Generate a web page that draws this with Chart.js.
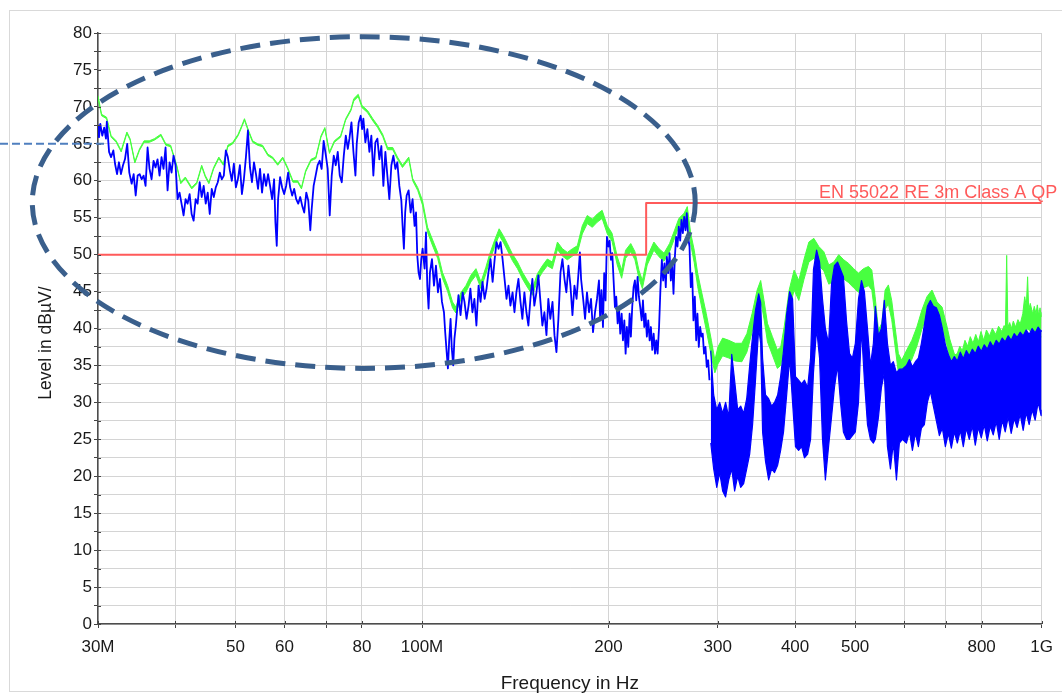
<!DOCTYPE html>
<html>
<head>
<meta charset="utf-8">
<script src="https://cdn.jsdelivr.net/npm/chart.js@4.4.1/dist/chart.umd.min.js"></script>
<style>
html,body{margin:0;padding:0;background:#fff;}
canvas{display:block;}
</style>
</head>
<body>
<canvas id="c" width="1062" height="693"></canvas>
<script>
// ---------- axis ticks ----------
const xTickValues = [30,40,50,60,70,80,100,200,300,400,500,600,700,800,1000];
const xTickLabels = ['30M','','50','60','','80','100M','200','300','400','500','','','800','1G'];
const yMin = 0, yMax = 80, yStep = 2.5;

// ---------- limit line (EN 55022 RE 3m Class A QP) ----------
const limitLabel = 'EN 55022 RE 3m Class A QP';
const limitFreq  = [30, 230, 230, 1000];
const limitLevel = [50, 50, 57, 57];

// ---------- peak trace (green), upper / lower edge ----------
const greenFreq = [
 30.0,30.4,30.97,31.5,32.1,32.7,33.4,33.8,34.4,35.0,
 35.6,36.3,37.0,37.9,38.6,39.3,40.2,40.8,41.5,42.5,
 43.3,44.1,44.7,45.3,46.1,47.0,47.8,48.6,49.5,50.5,
 51.2,51.7,52.5,53.3,54.3,55.3,56.4,57.4,58.5,59.6,
 60.7,61.9,63.0,63.9,64.9,66.2,67.4,68.7,69.7,70.9,
 72.2,73.9,75.3,76.8,77.6,78.9,80.0,81.7,83.3,84.8,
 86.4,88.0,89.7,91.3,93.0,95.2,96.6,98.4,100.2,102.1,
 103.9,106.0,107.9,110.0,112.0,113.4,115.6,117.7,119.9,122.2,
 124.5,126.8,128.4,130.9,133.2,135.2,137.3,139.9,142.6,145.3,
 147.9,150.8,153.5,156.4,159.3,162.3,165.4,168.5,171.6,174.9,
 178.1,181.4,184.8,188.3,191.8,195.3,199.1,202.6,206.6,210.0,
 213.1,217.2,220.6,223.9,226.8,230.9,236.7,241.3,245.8,250.9,
 255.6,259.7,264.8,268.0,271.4,275.0,278.5,282.2,287.6,293.1,
 296.9,300.3,305.6,312.7,320.2,328.2,334.4,340.9,347.4,352.0,
 356.4,361.0,367.7,374.5,379.2,384.1,391.3,398.6,405.6,413.3,
 421.0,428.9,436.9,445.1,453.4,461.9,470.5,479.3,488.2,497.3,
 506.3,515.8,525.5,532.0,538.6,545.2,552.0,558.9,565.8,572.8,
 580.0,587.2,594.5,605.7,617.2,628.9,640.8,652.9,665.3,677.9,
 690.7,
 703.8,710.5,717.1,723.9,730.7,737.6,744.6,752.0,759.6,767.0,
 774.8,782.8,790.4,798.2,806.2,814.5,823.8,832.6,843.4,852.0,
 862.5,870.0,874.0,878.1,882.0,888.0,893.7,900.0,907.6,915.6,
 923.4,932.2,939.0,944.5,949.1,953.0,958.6,967.0,973.0,979.2,
 984.0,989.0,994.0,998.3,1000
];
const greenHi = [
 71.5,69.0,68.6,66.1,65.4,64.1,66.6,65.7,62.6,64.3,
 65.4,65.4,65.7,66.3,65.0,64.8,62.1,59.8,60.5,59.1,
 59.8,62.1,60.7,59.8,61.8,63.2,62.3,64.8,65.2,66.3,
 67.5,68.4,66.8,65.4,65.0,64.8,63.6,63.2,62.3,63.2,
 61.8,60.0,60.0,59.1,61.4,62.9,63.2,66.1,67.2,63.9,
 65.4,66.1,68.4,69.7,71.1,71.7,70.2,69.5,68.4,67.5,
 66.3,64.5,64.5,63.2,62.1,63.2,60.3,59.1,57.3,53.7,
 52.1,50.3,47.6,45.8,43.6,42.9,44.9,45.8,47.2,48.1,
 46.3,48.3,49.9,51.9,53.5,52.6,51.5,50.1,49.0,47.6,
 46.5,45.4,47.4,48.5,49.4,49.0,51.7,50.8,50.3,50.8,
 51.2,53.9,55.3,54.8,55.5,56.0,53.9,52.9,49.7,47.9,
 50.6,51.5,50.4,47.9,46.5,49.7,51.7,50.8,50.2,51.5,
 53.3,54.9,55.6,56.5,52.9,50.6,47.5,45.2,42.0,38.4,
 35.7,37.5,38.7,38.4,38.0,38.0,39.3,42.0,45.2,46.5,
 43.8,40.7,38.9,37.1,37.5,40.2,45.2,47.9,46.5,49.3,
 51.7,52.2,51.1,50.4,48.6,49.0,50.0,49.3,48.8,48.1,
 47.5,48.1,48.4,47.9,44.3,39.8,40.7,45.2,45.9,43.8,
 40.2,36.6,35.7,37.1,38.4,40.2,42.5,44.3,45.2,43.6,
 42.9,
 40.2,38.6,37.5,36.4,36.6,37.6,37.0,38.4,37.6,38.9,
 38.0,39.2,38.2,39.6,38.4,39.8,39.0,40.0,39.2,40.3,
 39.6,40.4,39.8,49.9,40.2,40.8,40.0,41.0,40.2,41.2,
 40.6,42.0,44.3,43.0,47.0,42.6,43.4,42.0,43.0,42.0,
 43.2,41.8,42.8,41.6,42.2
];
const greenLo = [
 71.2,68.8,68.4,65.9,65.2,63.9,66.4,65.5,62.4,64.1,
 65.2,65.2,65.5,66.1,64.8,64.6,61.9,59.6,60.3,58.9,
 59.6,61.9,60.5,59.6,61.6,63.0,62.1,64.6,65.0,66.1,
 67.3,68.2,66.6,65.2,64.8,64.6,63.4,63.0,62.1,63.0,
 61.6,59.8,59.8,58.9,61.2,62.7,63.0,65.9,67.0,63.7,
 65.2,65.9,68.2,69.5,70.8,71.4,69.9,69.2,68.1,67.2,
 66.0,64.2,64.2,62.9,61.8,62.9,60.0,58.7,56.7,53.0,
 51.3,49.5,46.8,45.0,42.8,42.1,44.0,44.9,46.3,47.2,
 45.4,47.4,49.0,51.0,52.6,51.7,50.6,49.2,48.1,46.7,
 45.6,44.5,46.5,47.6,48.5,48.1,50.7,49.8,49.3,49.8,
 50.2,52.8,54.2,53.7,54.4,54.9,52.8,51.8,48.6,46.8,
 49.5,50.4,49.3,46.8,45.4,48.6,50.6,49.7,49.1,50.4,
 52.2,53.8,54.5,55.2,51.4,48.9,45.7,43.2,39.8,36.2,
 34.0,35.2,36.3,36.0,35.6,35.5,36.8,39.5,42.6,43.9,
 41.3,38.2,36.4,34.6,35.0,37.6,42.5,45.2,43.8,46.6,
 49.0,49.5,48.5,47.8,46.0,46.4,47.4,46.7,46.2,45.5,
 44.9,45.5,45.8,45.2,41.6,37.2,38.1,42.6,43.3,41.2,
 37.6,34.0,33.2,34.6,35.8,37.6,39.9,41.7,42.6,41.0,
 40.3,
 37.6,36.0,34.9,34.2,34.0,34.8,35.0,35.4,35.2,35.8,
 35.6,36.0,35.8,36.2,35.8,36.6,36.4,36.8,36.6,37.0,
 37.1,37.3,37.3,38.5,37.5,37.8,37.5,38.0,37.6,38.0,
 38.2,39.0,39.5,39.6,40.0,39.8,39.6,39.2,39.6,39.5,
 39.4,39.0,39.2,38.8,38.8
];

// ---------- QP / average trace (blue), 30 MHz - 291 MHz ----------
const blueFreq = [
 30.0,30.11,30.26,30.48,30.70,30.90,31.0,31.26,31.49,31.76,
 31.96,32.20,32.43,32.67,32.92,33.16,33.44,33.70,34.00,34.25,
 34.51,34.76,35.02,35.28,35.54,35.80,36.07,36.33,36.61,36.88,
 37.15,37.43,37.71,37.99,38.27,38.56,38.85,39.14,39.43,39.72,
 40.02,40.32,40.62,40.92,41.23,41.54,41.85,42.17,42.48,42.80,
 43.12,43.44,43.77,44.10,44.43,44.77,45.10,45.44,45.78,46.13,
 46.47,46.82,47.17,47.52,47.88,48.24,48.60,48.97,49.33,49.70,
 50.08,50.45,50.83,51.21,51.59,51.98,52.37,52.77,53.16,53.56,
 53.96,54.37,54.78,55.19,55.60,56.02,56.44,56.86,57.29,57.72,
 58.0,58.29,58.58,59.02,59.46,59.91,60.36,60.81,61.27,61.73,
 62.19,62.66,63.13,63.60,64.08,64.56,65.05,65.54,66.03,66.35,
 66.85,67.35,67.85,68.36,68.87,69.39,69.91,70.44,70.97,71.50,
 72.04,72.58,73.12,73.67,74.22,74.78,75.34,75.90,
 76.36,76.94,77.51,78.09,78.46,79.04,79.63,80.04,80.42,81.02,
 81.63,82.24,82.85,83.46,84.09,84.72,85.35,85.98,86.63,87.27,
 87.92,88.57,89.24,89.91,90.58,91.24,91.92,92.61,93.04,93.49,
 93.94,94.45,95.15,95.85,96.56,97.28,97.80,98.26,98.73,99.25,
 99.73,100.22,100.97,101.49,101.98,102.47,103.0,103.77,104.55,105.33,
 106.1,106.9,107.7,108.5,109.0,109.6,110.1,110.6,111.2,111.7,
 112.3,112.8,113.4,114.0,114.5,115.4,116.3,117.1,118.0,118.9,
 119.7,120.6,121.5,122.4,123.4,124.3,125.2,126.2,127.1,128.0,
 129.0,130.0,131.0,131.9,132.9,133.9,134.9,135.9,136.9,137.9,
 138.9,140.0,141.0,142.0,143.1,144.2,145.2,146.3,147.4,148.5,
 149.6,150.7,151.8,153.0,154.1,155.3,156.4,157.6,158.8,159.9,
 161.1,162.4,163.6,164.8,166.0,167.3,168.5,169.8,171.0,172.3,
 173.6,174.9,176.2,177.6,178.9,179.8,180.6,182.0,183.3,184.6,
 186.0,187.4,188.8,190.2,191.6,
 193.0,193.9,194.8,195.9,196.8,197.8,198.8,199.8,200.8,201.8,
 202.8,203.8,204.8,205.8,206.9,207.9,208.9,210.0,211.0,212.1,
 213.1,214.1,215.2,216.3,217.3,218.4,219.5,220.6,221.7,222.8,
 223.9,225.0,226.2,227.3,228.4,229.5,230.6,231.8,233.0,234.1,
 235.3,236.5,237.7,238.8,240.0,241.3,242.5,243.8,245.0,246.2,
 247.4,248.4,249.6,250.9,252.1,253.4,254.6,255.9,257.1,258.4,
 259.7,261.0,262.3,263.6,264.9,266.2,267.5,268.8,270.2,271.5,
 272.9,274.2,275.6,277.0,278.3,279.7,281.1,282.5,283.8,285.2,
 286.7,288.1,289.6,291.0
];
const blueLevel = [
 67.5,65.9,67.7,66.1,67.2,65.7,68.0,63.9,63.2,64.1,
 62.3,60.9,62.5,60.9,62.1,62.9,65.0,61.1,59.6,60.9,
 58.0,60.7,60.9,60.2,60.7,59.3,64.5,61.6,60.2,62.7,
 61.8,62.9,60.7,63.2,61.6,64.5,58.7,62.5,61.1,63.4,
 62.1,57.5,58.4,56.9,55.3,57.5,56.9,58.2,55.5,54.6,
 57.5,56.9,59.8,57.8,59.3,56.9,58.4,55.5,58.9,57.8,
 59.1,59.8,61.1,60.2,60.7,64.1,63.2,61.4,60.0,62.3,
 59.1,60.2,62.1,58.2,60.2,63.2,66.8,61.8,59.8,62.5,
 60.9,58.9,61.6,58.4,60.9,59.3,60.9,59.3,57.5,60.2,
 54.4,51.2,57.5,60.5,59.1,58.2,59.3,61.1,59.1,58.0,
 58.9,57.5,56.9,57.8,56.6,55.7,58.4,57.3,53.3,56.0,
 59.3,60.7,62.1,62.7,61.6,65.4,63.6,61.6,55.3,60.7,
 63.4,62.1,63.9,60.7,59.8,63.4,66.1,64.3,
 65.7,67.9,63.9,60.7,65.0,67.9,68.8,67.0,68.4,65.2,
 67.0,63.9,66.1,60.7,65.2,65.7,62.9,64.7,59.3,63.9,
 60.7,57.5,62.1,63.4,61.6,62.5,59.3,57.3,53.9,50.8,
 55.7,58.0,58.7,55.7,57.5,53.9,55.7,49.9,47.6,46.7,
 49.4,50.8,48.1,53.0,45.8,42.7,47.6,49.4,45.8,48.5,
 44.9,46.7,43.6,42.2,39.5,36.8,34.6,38.2,41.3,37.3,
 35.0,38.6,40.4,42.7,44.5,41.8,44.9,43.6,41.3,43.1,
 45.4,42.2,44.0,40.4,45.8,43.6,46.3,44.0,45.4,47.6,
 49.4,46.3,49.4,51.7,50.8,51.7,49.4,46.7,44.0,45.8,
 43.1,44.9,42.2,44.9,46.7,43.6,41.3,44.9,42.2,40.4,
 44.0,46.7,43.1,44.9,47.2,43.6,40.4,42.2,39.1,44.0,
 41.3,43.6,39.1,36.8,41.3,47.6,49.4,46.7,44.9,48.5,
 45.8,41.8,45.8,44.0,47.6,50.3,46.7,44.0,41.3,44.9,
 42.2,44.0,39.5,42.2,44.0,
 46.5,41.1,45.2,40.2,47.5,43.8,52.4,51.1,51.9,49.3,
 50.2,46.5,42.9,44.3,40.7,42.9,39.3,42.0,38.4,41.1,
 36.6,40.2,37.5,42.0,38.9,42.9,45.6,46.5,43.8,47.0,
 44.3,42.9,41.1,43.8,40.2,42.0,38.9,41.1,38.4,40.2,
 37.1,39.3,36.6,38.4,36.6,40.2,45.2,49.3,46.5,48.8,
 45.6,49.7,47.5,50.2,46.5,48.8,44.7,49.7,52.4,51.1,
 53.8,51.9,54.7,52.9,55.1,53.3,55.6,52.4,51.1,45.6,
 47.5,41.1,44.3,38.4,42.0,37.5,40.2,38.9,39.3,36.6,
 37.5,34.8,35.7,33.0
];

// ---------- blue trace, 291 MHz - 1 GHz: dense band (upper / lower edge) ----------
const bandFreq = [
 292.4,295.6,299.0,302.3,305.6,309.0,312.6,316.1,319.5,323.2,
 326.8,330.4,334.2,337.9,341.6,345.3,349.4,352.0,354.5,358.4,
 362.6,366.6,370.6,374.9,379.1,383.2,387.7,392.0,396.3,400.6,
 405.3,409.8,414.2,419.1,423.7,428.3,433.3,438.1,442.9,447.7,
 453.0,458.0,463.0,468.4,473.6,478.7,484.3,489.7,495.0,500.4,
 506.3,511.9,517.5,523.5,529.3,535.1,539.0,545.3,551.3,557.3,
 563.8,570.1,576.3,583.0,589.4,595.9,
 605.0,611.8,618.6,625.5,632.5,639.6,646.7,654.0,661.3,668.7,
 676.2,683.8,691.4,699.2,707.0,714.9,722.9,731.0,739.2,747.4,
 755.8,764.2,772.8,781.4,790.2,799.0,807.9,817.0,826.1,835.3,
 844.7,854.1,863.7,873.3,883.1,893.0,902.9,913.0,923.2,933.6,
 944.0,954.6,965.2,976.0,987.0,998.0,1000
];
const bandHi = [
 37.0,31.0,29.0,30.0,28.5,30.0,28.0,36.5,33.0,29.0,
 29.5,28.5,30.5,35.0,39.0,42.5,44.7,43.5,36.0,31.0,
 30.5,29.5,30.0,31.0,33.5,37.0,42.0,45.0,44.0,33.5,
 33.0,32.5,33.0,32.0,36.0,48.0,50.6,49.0,44.0,40.0,
 38.0,46.0,48.5,49.0,48.0,47.0,41.0,36.6,36.0,38.0,
 44.0,46.5,45.0,40.0,35.0,38.0,43.0,39.0,40.0,43.8,
 38.0,35.0,35.5,34.0,34.5,34.5,
 35.0,35.8,34.8,35.5,36.0,38.0,40.5,43.0,43.8,43.0,
 42.8,41.8,40.0,37.8,36.5,35.5,36.2,35.6,36.8,35.9,
 37.0,36.3,37.2,36.6,37.6,36.9,37.8,37.2,38.2,37.5,
 38.4,37.9,38.7,38.2,39.0,38.4,39.3,38.8,39.5,39.0,
 39.8,39.2,40.0,39.4,40.2,39.6,39.8
];
const bandLo = [
 24.5,21.0,18.5,20.5,18.0,17.2,19.5,21.0,18.0,20.0,
 18.5,19.0,21.0,23.0,27.0,33.0,40.0,38.0,26.0,22.0,
 19.5,21.0,20.5,21.5,23.5,26.0,31.0,36.0,30.0,24.0,
 23.5,24.0,22.5,23.0,25.0,34.0,40.0,36.0,25.0,19.5,
 24.0,28.0,32.0,35.0,30.0,26.0,25.0,25.0,25.5,26.0,
 30.0,40.0,33.0,27.0,25.0,24.5,25.0,28.0,32.0,34.0,
 24.0,21.0,24.5,19.5,24.5,25.0,
 24.5,26.0,23.5,25.8,24.0,26.5,27.0,30.0,31.5,29.5,
 27.5,25.5,26.5,24.0,25.8,23.8,26.0,24.5,26.2,24.0,
 26.5,25.0,26.8,24.2,26.6,25.2,27.0,24.8,26.8,25.6,
 27.4,25.0,27.6,26.0,28.0,25.8,27.8,26.6,28.4,26.2,
 28.6,27.0,29.0,27.6,30.0,28.2,29.0
];

// ---------- annotation (hand-drawn marks on the original) ----------
const ellipseFreq  = [23.5, 276];   // left / right extent, MHz
const ellipseLevel = [34.6, 79.5];  // bottom / top extent, dBµV
const markerLevel = 65;
const markerFreqEnd = 31;

// ---------- styles ----------
const GREEN = 'rgb(72,255,64)';
const BLUE = '#0000ff';
const RED = '#ff5a5a';
const FONT = '"Liberation Sans", Arial, Helvetica, sans-serif';

const pts = (fs, vs) => fs.map((f, i) => ({x: f, y: vs[i]}));

const annotPlugin = {
  id: 'annot',
  beforeDraw(chart) {
    const ctx = chart.ctx;
    ctx.save();
    ctx.strokeStyle = '#d9d9d9';
    ctx.lineWidth = 1;
    ctx.strokeRect(9.5, 10.5, chart.width + 20, chart.height - 12);
    ctx.restore();
  },
  afterDraw(chart) {
    const {ctx, chartArea} = chart;
    const xs = chart.scales.x, ys = chart.scales.y;
    ctx.save();
    // inner half of the tick marks (ticks cross the axis lines)
    ctx.strokeStyle = '#444';
    ctx.lineWidth = 1;
    ctx.beginPath();
    ys.ticks.forEach((t, i) => {
      const p = Math.round(ys.getPixelForTick(i)) + 0.5;
      ctx.moveTo(chartArea.left, p); ctx.lineTo(chartArea.left + 3, p);
    });
    xs.ticks.forEach((t, i) => {
      const p = Math.round(xs.getPixelForTick(i)) + 0.5;
      ctx.moveTo(p, chartArea.bottom); ctx.lineTo(p, chartArea.bottom - 3);
    });
    ctx.stroke();
    // limit label
    ctx.font = '18px ' + FONT;
    ctx.fillStyle = RED;
    ctx.textAlign = 'right';
    ctx.textBaseline = 'alphabetic';
    ctx.fillText(limitLabel, chartArea.right + 15.5, ys.getPixelForValue(limitLevel[limitLevel.length - 1]) - 4.5);
    // short dashed marker at left
    const my = ys.getPixelForValue(markerLevel);
    ctx.strokeStyle = '#4f7fbf';
    ctx.lineWidth = 2;
    ctx.setLineDash([8, 4]);
    ctx.beginPath();
    ctx.moveTo(0, my);
    ctx.lineTo(xs.getPixelForValue(markerFreqEnd), my);
    ctx.stroke();
    // dashed ellipse
    const x1 = xs.getPixelForValue(ellipseFreq[0]), x2 = xs.getPixelForValue(ellipseFreq[1]);
    const y1 = ys.getPixelForValue(ellipseLevel[1]), y2 = ys.getPixelForValue(ellipseLevel[0]);
    ctx.strokeStyle = '#3a5f8c';
    ctx.lineWidth = 5;
    ctx.setLineDash([20, 10]);
    ctx.beginPath();
    ctx.ellipse((x1 + x2) / 2, (y1 + y2) / 2, (x2 - x1) / 2, (y2 - y1) / 2, 0, 0, Math.PI * 2);
    ctx.stroke();
    ctx.restore();
  }
};

new Chart(document.getElementById('c'), {
  type: 'line',
  data: {
    datasets: [
      {label: 'Peak', data: pts(greenFreq, greenHi), borderColor: GREEN, borderWidth: 1, fill: false, order: 6},
      {label: 'Peak lo', data: pts(greenFreq, greenLo), borderColor: GREEN, borderWidth: 1, backgroundColor: GREEN, fill: '-1', order: 5},
      {label: 'QP', data: pts(blueFreq, blueLevel), borderColor: BLUE, borderWidth: 1.8, fill: false, order: 4},
      {label: 'QP band hi', data: pts(bandFreq, bandHi), borderColor: BLUE, borderWidth: 1.2, fill: false, order: 3},
      {label: 'QP band lo', data: pts(bandFreq, bandLo), borderColor: BLUE, borderWidth: 1.2, backgroundColor: BLUE, fill: '-1', order: 2},
      {label: limitLabel, data: pts(limitFreq, limitLevel), borderColor: RED, borderWidth: 2, fill: false, order: 1}
    ]
  },
  options: {
    responsive: false,
    animation: false,
    devicePixelRatio: 1,
    layout: {padding: {left: 0, top: 33, right: 18, bottom: 0}},
    elements: {
      point: {radius: 0, hitRadius: 0, hoverRadius: 0},
      line: {tension: 0, borderJoinStyle: 'round'}
    },
    plugins: {legend: {display: false}, tooltip: {enabled: false}},
    events: [],
    scales: {
      x: {
        type: 'logarithmic',
        min: 30, max: 1000,
        afterBuildTicks: (s) => { s.ticks = xTickValues.map(v => ({value: v})); },
        afterFit: (s) => { s.height = 69; },
        ticks: {
          autoSkip: false, maxRotation: 0, minRotation: 0,
          padding: 9, color: '#1a1a1a',
          font: {family: FONT, size: 17},
          callback: (v, i) => xTickLabels[i]
        },
        grid: {color: '#d4d4d4', lineWidth: 1, tickLength: 4, tickColor: '#444'},
        border: {color: '#4d4d4d', width: 1.5},
        title: {display: true, text: 'Frequency in Hz', color: '#1a1a1a',
                font: {family: FONT, size: 19, lineHeight: 1}, padding: {top: 0, bottom: 0}}
      },
      y: {
        type: 'linear',
        min: yMin, max: yMax,
        afterFit: (s) => { s.width = 98; },
        ticks: {
          stepSize: yStep, autoSkip: false, padding: 2, color: '#1a1a1a',
          font: {family: FONT, size: 17},
          callback: (v) => (Math.abs(v % 5) < 1e-6 ? String(v) : '')
        },
        grid: {color: '#d4d4d4', lineWidth: 1, tickLength: 4, tickColor: '#444'},
        border: {color: '#4d4d4d', width: 1.5},
        title: {display: true, text: 'Level in dBµV/\u00a0\u00a0\u00a0\u00a0\u00a0\u00a0', color: '#1a1a1a',
                font: {family: FONT, size: 17.5}, padding: {top: 35.5, bottom: 0}}
      }
    }
  },
  plugins: [annotPlugin]
});
</script>
</body>
</html>
